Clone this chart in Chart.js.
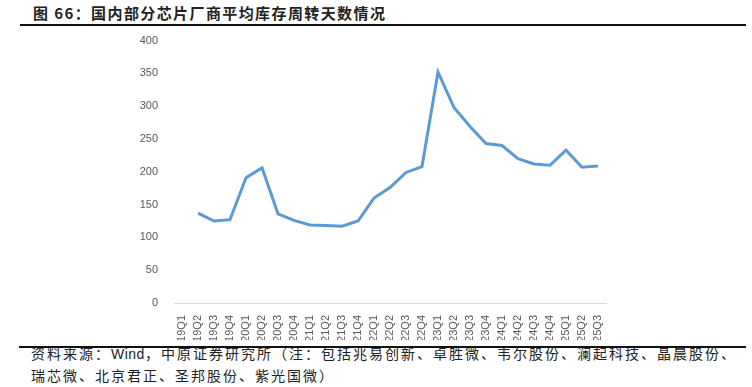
<!DOCTYPE html>
<html>
<head>
<meta charset="utf-8">
<script src="https://cdn.jsdelivr.net/npm/chart.js@4"></script>
<style>
  html, body { margin: 0; padding: 0; background: #fff; }
  body { width: 752px; height: 387px; position: relative; overflow: hidden; }
  #title { position: absolute; left: 33px; top: 2px; font: bold 15px "Noto Sans CJK SC", sans-serif; color: #222; white-space: nowrap; letter-spacing: 1.4px; }
  #rule-top { position: absolute; left: 20px; width: 726px; top: 24px; height: 2px; background: #111; }
  #rule-bot { position: absolute; left: 19px; width: 727px; top: 346px; height: 2px; background: #111; }
  #source { position: absolute; left: 31px; top: 343px; font: 14px "Noto Sans CJK SC", sans-serif; color: #222; line-height: 21px; letter-spacing: 2px; width: 730px; white-space: nowrap; }
  #source .en { font-family: "Liberation Sans", Arial, sans-serif; letter-spacing: 0.5px; }
  #wrap { position: absolute; left: 0; top: 26px; width: 752px; height: 314px; }
</style>
</head>
<body>
<div id="title">图 66：国内部分芯片厂商平均库存周转天数情况</div>
<div id="rule-top"></div>
<div id="wrap"><canvas id="chart"></canvas></div>
<div id="rule-bot"></div>
<div id="source">资料来源：<span class="en">Wind</span>，中原证券研究所（注：包括兆易创新、卓胜微、韦尔股份、澜起科技、晶晨股份、<br>瑞芯微、北京君正、圣邦股份、紫光国微）</div>
<script>
// quarters shown on the x axis
const quarters = [
  "19Q1", "19Q2", "19Q3", "19Q4", "20Q1", "20Q2", "20Q3", "20Q4",
  "21Q1", "21Q2", "21Q3", "21Q4", "22Q1", "22Q2", "22Q3", "22Q4",
  "23Q1", "23Q2", "23Q3", "23Q4", "24Q1", "24Q2", "24Q3", "24Q4",
  "25Q1", "25Q2", "25Q3"
];
// average inventory turnover days (19Q1 has no value in the source)
const turnoverDays = [
  null, 137, 125, 127, 191, 206, 136, 126,
  119, 118, 117, 125, 160, 176, 199, 208,
  352, 298, 269, 243, 240, 220, 212, 210,
  233, 207, 209
];
const yTicks = { min: 0, max: 400, step: 50 };

const ctx = document.getElementById("chart").getContext("2d");
new Chart(ctx, {
  type: "line",
  data: {
    labels: quarters,
    datasets: [{
      data: turnoverDays,
      borderColor: "#5B9BD5",
      borderWidth: 3,
      pointRadius: 0,
      tension: 0,
      fill: false,
      spanGaps: false,
    }]
  },
  options: {
    responsive: true,
    maintainAspectRatio: false,
    animation: false,
    layout: { padding: { left: 0, right: 146, top: 7, bottom: 0 } },
    plugins: { legend: { display: false }, tooltip: { enabled: false } },
    scales: {
      x: {
        offset: true,
        grid: { display: false },
        border: { display: true, color: "#D9D9D9", width: 1 },
        ticks: {
          autoSkip: false,
          maxRotation: 90,
          minRotation: 90,
          padding: 4,
          color: "#595959",
          font: { family: "Liberation Sans, Arial, sans-serif", size: 11 },
        },
        afterFit: (s) => { s.height = 37; },
      },
      y: {
        min: yTicks.min,
        max: yTicks.max,
        grid: { display: false },
        border: { display: false },
        ticks: {
          stepSize: yTicks.step,
          padding: 8,
          color: "#595959",
          font: { family: "Liberation Sans, Arial, sans-serif", size: 11 },
        },
        afterFit: (s) => { s.width = 174; },
      }
    }
  }
});
</script>
</body>
</html>
